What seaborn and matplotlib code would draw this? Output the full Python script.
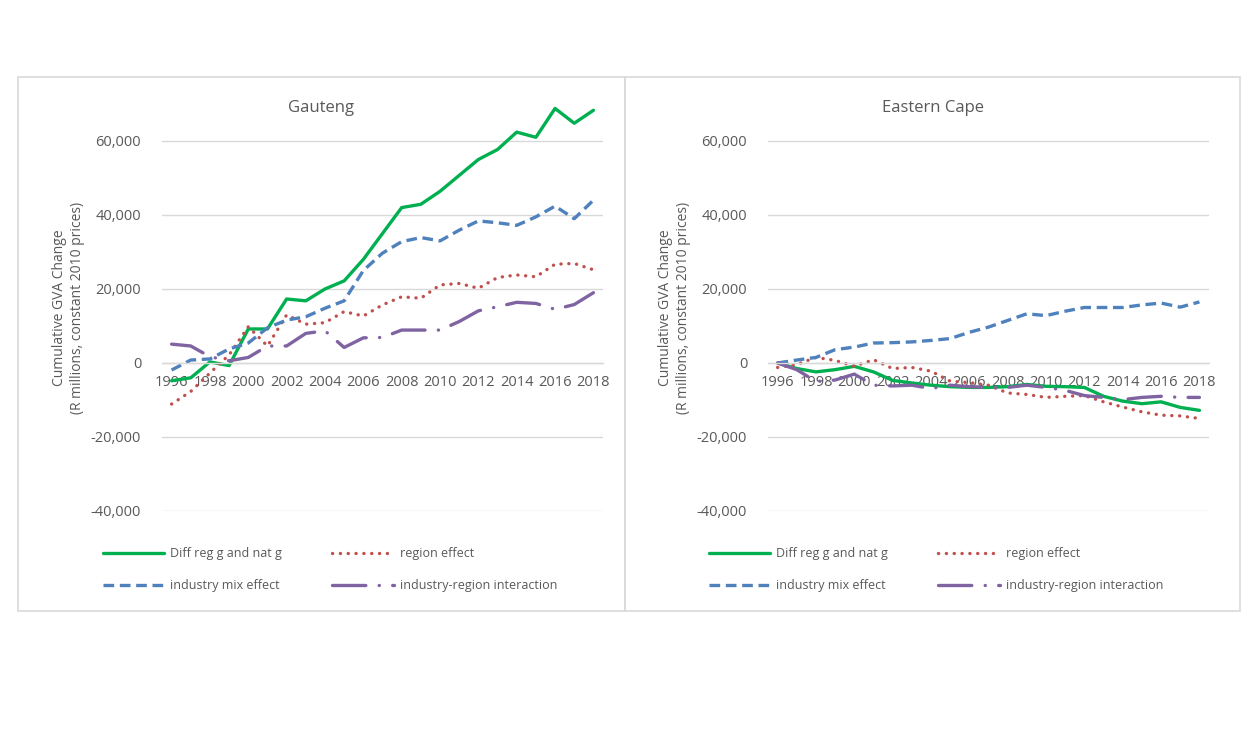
"""
Shift-share decomposition: cumulative GVA change, Gauteng vs Eastern Cape.
"""
import numpy as np
import pandas as pd
import matplotlib
matplotlib.use('Agg')
import matplotlib.pyplot as plt
from matplotlib.patches import Rectangle
from matplotlib.ticker import FuncFormatter
import seaborn as sns

# ── DATA ──────────────────────────────────────────────────────
years = list(range(1996, 2019))

gp_diff = [-4800, -4000, 300, -700, 9200, 9200, 17300, 16800, 20000, 22200, 28000, 35000,
           42000, 42900, 46400, 50700, 55000, 57700, 62400, 61000, 68800, 64800, 68300]
gp_region = [-11100, -7700, -2700, 2200, 9800, 4600, 13000, 10500, 10900, 13900, 12700, 15700,
             17900, 17500, 21100, 21500, 20200, 23100, 23800, 23300, 26700, 26900, 25200]
gp_mix = [-1900, 800, 1100, 3800, 5400, 9500, 11600, 12500, 14800, 16800, 25000, 29700,
          32800, 33900, 33000, 35900, 38400, 37900, 37200, 39500, 42400, 39000, 44000]
gp_inter = [5100, 4600, 1700, 600, 1500, 4600, 4600, 8000, 8700, 4200, 6800, 6900,
            8900, 8900, 8900, 11200, 14100, 15200, 16400, 16100, 14500, 15800, 19000]

ec_diff = [0, -1500, -2400, -1800, -900, -2400, -4700, -5400, -6000, -6400, -6600, -6600,
           -6400, -5800, -6300, -6400, -6600, -9000, -10300, -11000, -10500, -12000, -12800]
ec_region = [-1200, -400, 1500, 700, -900, 900, -1500, -1200, -2200, -4900, -5300, -6000,
             -8100, -8500, -9300, -9000, -8800, -10500, -11900, -13200, -14100, -14300, -15000]
ec_mix = [0, 800, 1500, 3600, 4300, 5400, 5500, 5700, 6100, 6600, 8300, 9700,
          11500, 13300, 12800, 14000, 15000, 15000, 15000, 15700, 16200, 15100, 16500]
ec_inter = [0, -1800, -5000, -4600, -3000, -6000, -6200, -6000, -6900, -6000, -6400, -6600,
            -6600, -6000, -6600, -7400, -8800, -9300, -9900, -9300, -9000, -9300, -9300]

series_names = ['Diff reg g and nat g', 'region effect', 'industry mix effect',
                'industry-region interaction']
panels = {
    'Gauteng': [gp_diff, gp_region, gp_mix, gp_inter],
    'Eastern Cape': [ec_diff, ec_region, ec_mix, ec_inter],
}

# ── STYLE ─────────────────────────────────────────────────────
sns.set_theme(style='white')
plt.rcParams['font.family'] = ['Open Sans', 'DejaVu Sans']

GREY_TXT = '#595959'
GRID = '#d9d9d9'
STYLES = {
    'Diff reg g and nat g': dict(color='#00b050', linestyle='-'),
    'region effect': dict(color='#c0504d', linestyle=(0, (0.05, 2.3)), dash_capstyle='round'),
    'industry mix effect': dict(color='#4f81bd', linestyle=(0, (3.2, 1.7))),
    'industry-region interaction': dict(color='#8064a2', linestyle=(0, (10, 4, 0.05, 4)),
                                        dash_capstyle='round'),
}
LW = 2.4

W, H = 1260, 736
fig = plt.figure(figsize=(W / 100, H / 100), dpi=100)

# panel frames (pixel coords from top-left)
frames = {'Gauteng': (18, 625), 'Eastern Cape': (625, 1240)}
for x0, x1 in frames.values():
    fig.patches.append(Rectangle((x0 / W, 1 - 611 / H), (x1 - x0) / W, (611 - 77) / H,
                                 transform=fig.transFigure, fill=False,
                                 edgecolor=GRID, linewidth=1.2))

axes_px = {'Gauteng': 162, 'Eastern Cape': 768}
top_px, bot_px, width_px = 104, 511, 441

for name, vals in panels.items():
    x0 = axes_px[name]
    ax = fig.add_axes([x0 / W, 1 - bot_px / H, width_px / W, (bot_px - top_px) / H])
    df = pd.DataFrame({'year': years})
    for s, v in zip(series_names, vals):
        df[s] = v
    for s in series_names:
        sns.lineplot(data=df, x='year', y=s, ax=ax, linewidth=LW, label=s, **STYLES[s])

    ax.set_xlim(1995.5, 2018.5)
    ax.set_ylim(-40000, 70000)
    ax.set_yticks(np.arange(-40000, 60001, 20000))
    ax.set_xticks(np.arange(1996, 2019, 2))
    ax.yaxis.set_major_formatter(FuncFormatter(lambda v, p: f'{v:,.0f}'))
    ax.grid(axis='y', color=GRID, linewidth=1)
    ax.grid(axis='x', visible=False)
    for sp in ['top', 'right', 'left']:
        ax.spines[sp].set_visible(False)
    ax.spines['bottom'].set_position(('data', 0))
    ax.spines['bottom'].set_color(GRID)
    ax.spines['bottom'].set_linewidth(1)
    ax.tick_params(axis='both', length=0, labelsize=10.5, colors=GREY_TXT)
    ax.tick_params(axis='y', pad=15)
    ax.tick_params(axis='x', pad=9)
    ax.set_xlabel('')
    ax.set_ylabel('Cumulative GVA Change\n(R millions, constant 2010 prices)',
                  fontsize=10, color=GREY_TXT, labelpad=4.5)
    ax.set_facecolor('none')

    fx0, fx1 = frames[name]
    fig.text((fx0 + fx1) / 2 / W, 1 - 108 / H, name, ha='center', va='center',
             fontsize=12, color=GREY_TXT)

    handles, labels = ax.get_legend_handles_labels()
    order = [0, 2, 1, 3]
    ax.legend([handles[i] for i in order], [labels[i] for i in order],
              loc='upper left', bbox_to_anchor=((x0 - 59) / W, 1 - 547 / H),
              bbox_transform=fig.transFigure, ncol=2, frameon=False,
              fontsize=9, labelcolor=GREY_TXT, handlelength=4.9, handletextpad=0.5,
              columnspacing=4.0, labelspacing=1.55, borderpad=0, borderaxespad=0)

fig.savefig('out.png', dpi=100, facecolor='white')
